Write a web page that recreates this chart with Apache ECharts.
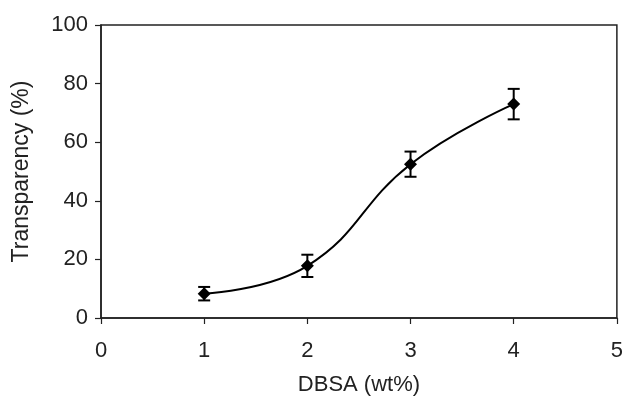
<!DOCTYPE html>
<html>
<head>
<meta charset="utf-8">
<script src="https://cdn.jsdelivr.net/npm/echarts@6/dist/echarts.min.js"></script>
<style>
html,body{margin:0;padding:0;background:#fff;}
#main{width:626px;height:408px;}
</style>
</head>
<body>
<div id="main"></div>
<script>
// DBSA content vs transparency
var dbsa=[1,2,3,4];
var transparency=[8.3,17.8,52.5,73];
var errs=[2.3,3.8,4.3,5.2];
var xTicks=[0,1,2,3,4,5];
var yTicks=[0,20,40,60,80,100];

var lineData=[],errData=[];
for(var i=0;i<dbsa.length;i++){
    lineData.push([dbsa[i],transparency[i]]);
    errData.push([dbsa[i],transparency[i]-errs[i],transparency[i]+errs[i]]);
}

var myChart=echarts.init(document.getElementById('main'),null,{renderer:'canvas'});
var font='Liberation Sans, Arial, sans-serif';
var option={
    animation:false,
    backgroundColor:'#fff',
    grid:{left:101,right:6,top:25,bottom:90,show:true,borderColor:'#222',borderWidth:1.5,backgroundColor:'transparent'},
    xAxis:{
        type:'value',min:xTicks[0],max:xTicks[xTicks.length-1],interval:1,
        name:'DBSA (wt%)',nameLocation:'middle',nameGap:56,
        nameTextStyle:{fontFamily:font,fontSize:22,color:'#222'},
        axisLine:{onZero:false,lineStyle:{color:'#222',width:1.5}},
        axisTick:{show:true,length:6,lineStyle:{color:'#222',width:1.2}},
        axisLabel:{margin:22,fontFamily:font,fontSize:22,color:'#222'},
        splitLine:{show:false}
    },
    yAxis:{
        type:'value',min:yTicks[0],max:yTicks[yTicks.length-1],interval:20,
        name:'Transparency (%)',nameLocation:'middle',nameGap:68,nameRotate:90,
        nameTextStyle:{fontFamily:font,fontSize:23,color:'#222'},
        axisLine:{lineStyle:{color:'#222',width:1.5}},
        axisTick:{show:true,length:6,lineStyle:{color:'#222',width:1.2}},
        axisLabel:{margin:13,fontFamily:font,fontSize:22,color:'#222'},
        splitLine:{show:false}
    },
    series:[
        {
            type:'line',
            data:lineData,
            smooth:0.45,
            symbol:'diamond',
            symbolSize:13,
            lineStyle:{color:'#000',width:2},
            itemStyle:{color:'#000'},
            z:3
        },
        {
            type:'custom',
            data:errData,
            renderItem:function(params,api){
                var x=api.value(0);
                var lo=api.coord([x,api.value(1)]);
                var hi=api.coord([x,api.value(2)]);
                var w=6;
                var st={stroke:'#000',lineWidth:2};
                return {type:'group',children:[
                    {type:'line',shape:{x1:lo[0],y1:lo[1],x2:hi[0],y2:hi[1]},style:st},
                    {type:'line',shape:{x1:lo[0]-w,y1:lo[1],x2:lo[0]+w,y2:lo[1]},style:st},
                    {type:'line',shape:{x1:hi[0]-w,y1:hi[1],x2:hi[0]+w,y2:hi[1]},style:st}
                ]};
            },
            z:4
        }
    ]
};
myChart.setOption(option);
</script>
</body>
</html>
